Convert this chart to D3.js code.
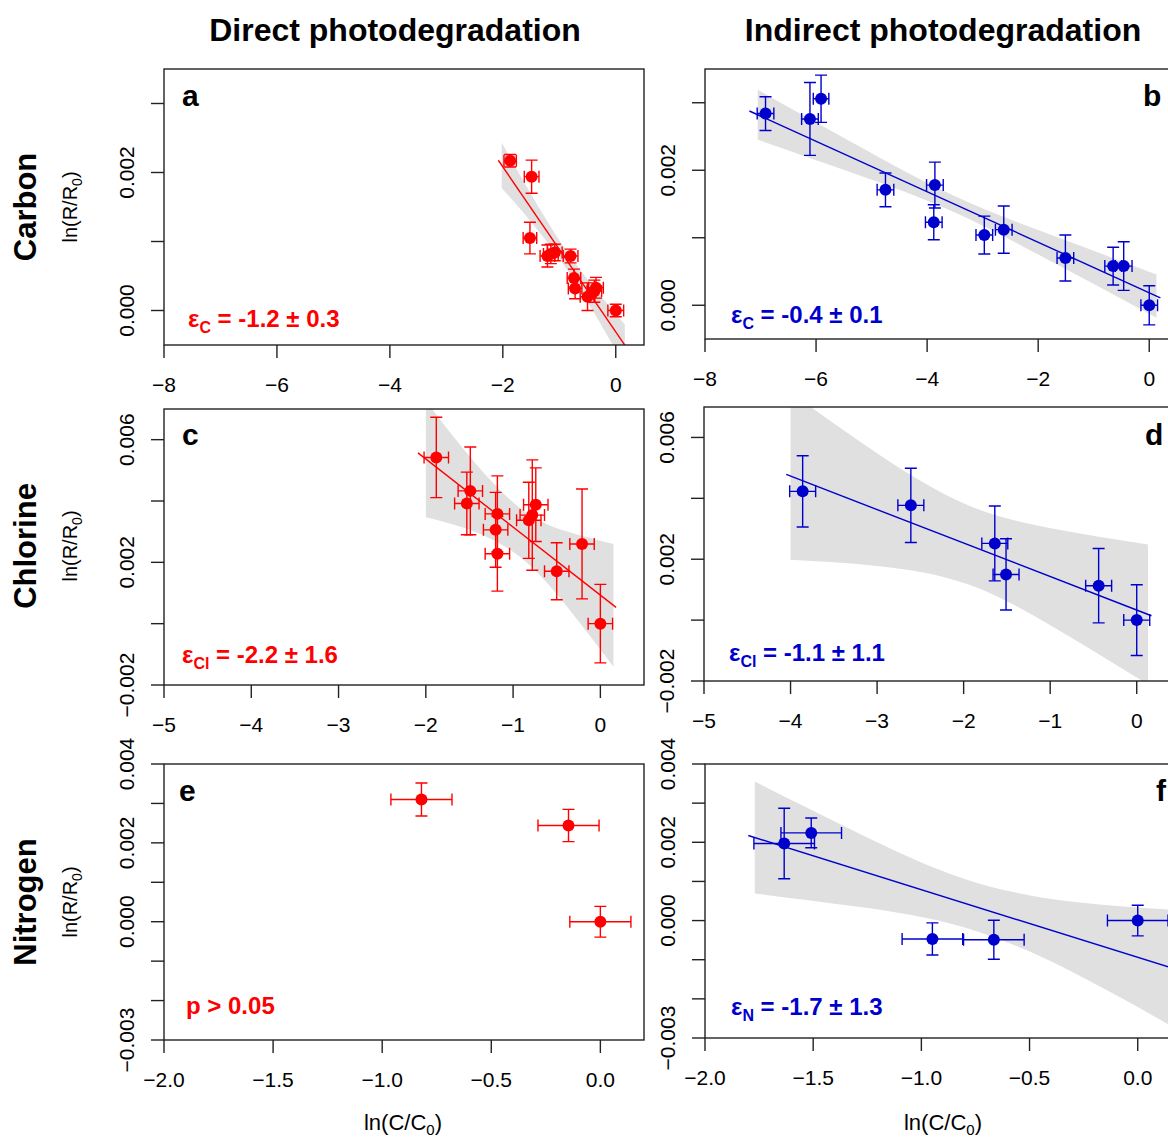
<!DOCTYPE html>
<html>
<head>
<meta charset="utf-8">
<script src="https://cdn.jsdelivr.net/npm/d3@7"></script>
<style>
  body { margin: 0; background: #fff; }
  svg { display: block; font-family: "Liberation Sans", Arial, Helvetica, sans-serif; }
</style>
</head>
<body>
<svg id="chart" width="1168" height="1137"></svg>
<script>
// ---- data (y values are ln(R/R0)) ----
// a: carbon, direct
const aX = [-1.87, -1.49, -1.52, -1.21, -1.15, -1.08, -0.80, -0.74, -0.72, -0.50, -0.38, -0.35, 0];
const aY = [0.00217, 0.00194, 0.00105, 0.00079, 0.00082, 0.00084, 0.00079, 0.00047, 0.00032, 0.00020, 0.00028, 0.00033, 0];
const aXe = [0.11, 0.13, 0.12, 0.13, 0.13, 0.13, 0.13, 0.12, 0.12, 0.13, 0.13, 0.13, 0.14];
const aYe = [0.00009, 0.00024, 0.00023, 0.00016, 0.00014, 0.00012, 0.00010, 0.00013, 0.00015, 0.00020, 0.00016, 0.00015, 0.00009];
// b: carbon, indirect
const bX = [-6.91, -6.11, -5.91, -4.75, -3.86, -3.88, -2.97, -2.62, -1.51, -0.65, -0.46, 0];
const bY = [0.00284, 0.00276, 0.00306, 0.00171, 0.00178, 0.00123, 0.00104, 0.00112, 0.00070, 0.00058, 0.00058, 0];
const bXe = [0.15, 0.15, 0.14, 0.15, 0.15, 0.15, 0.15, 0.15, 0.15, 0.15, 0.15, 0.15];
const bYe = [0.00025, 0.00054, 0.00035, 0.00025, 0.00034, 0.00026, 0.00028, 0.00035, 0.00034, 0.00028, 0.00036, 0.00029];
// c: chlorine, direct
const cX = [-1.88, -1.49, -1.53, -1.18, -1.20, -1.18, -0.74, -0.78, -0.82, -0.50, -0.21, 0];
const cY = [0.00542, 0.00433, 0.00392, 0.00358, 0.00306, 0.00228, 0.00388, 0.00354, 0.00337, 0.00171, 0.00260, 0];
const cXe = [0.14, 0.14, 0.14, 0.14, 0.14, 0.14, 0.14, 0.14, 0.14, 0.14, 0.14, 0.14];
const cYe = [0.00131, 0.00143, 0.00102, 0.00124, 0.00122, 0.00122, 0.00120, 0.00180, 0.00124, 0.00093, 0.00179, 0.00128];
// d: chlorine, indirect
const dX = [-3.86, -2.61, -1.64, -1.51, -0.44, 0];
const dY = [0.00423, 0.00377, 0.00252, 0.00150, 0.00113, 0];
const dXe = [0.15, 0.15, 0.15, 0.15, 0.15, 0.15];
const dYe = [0.00117, 0.00122, 0.00123, 0.00117, 0.00122, 0.00116];
// e: nitrogen, direct
const eX = [-0.82, -0.146, 0];
const eY = [0.00310, 0.00244, 0];
const eXe = [0.14, 0.14, 0.14];
const eYe = [0.00042, 0.00041, 0.00039];
// f: nitrogen, indirect
const fX = [-1.634, -1.509, -0.949, -0.665, 0];
const fY = [0.00197, 0.00224, -0.00047, -0.00049, 0];
const fXe = [0.14, 0.14, 0.14, 0.14, 0.14];
const fYe = [0.00090, 0.00038, 0.00041, 0.00050, 0.00039];

// fitted lines: [slope, intercept, xStart, xEnd]
const aFit = [-0.001196, -0.00031, -2.08, 0.16];
const bFit = [-0.000374, 0.000185, -7.2, 0.2];
const cFit = [-0.00222, 0.00093, -2.09, 0.18];
const dFit = [-0.00110, 0.00033, -4.05, 0.17];
const fFit = [-0.00173, -0.00094, -1.80, 0.2];
// confidence bands: x positions and half widths around the line
const aBandX = [-2.02, -1.5, -0.95, -0.4, 0.16];
const aBandHw = [0.00033, 0.00020, 0.00013, 0.00018, 0.00030];
const bBandX = [-7.05, -5.3, -3.5, -1.7, 0.13];
const bBandHw = [0.00037, 0.00022, 0.00012, 0.00020, 0.00032];
const cBandX = [-2.0, -1.5, -0.93, -0.4, 0.15];
const cBandHw = [0.0019, 0.0012, 0.0008, 0.0012, 0.0020];
const dBandX = [-4.0, -3.0, -1.95, -0.9, 0.13];
const dBandHw = [0.00275, 0.00185, 0.0013, 0.00165, 0.0023];
const fBandX = [-1.77, -1.3, -0.8, -0.3, 0.2];
const fBandHw = [0.00143, 0.00095, 0.00062, 0.0009, 0.00155];

// axes
const xTicksCarbon = [-8, -6, -4, -2, 0];
const xTicksChlorine = [-5, -4, -3, -2, -1, 0];
const xTicksNitrogen = [-2, -1.5, -1, -0.5, 0];
const yTicksCarbon = [0, 0.001, 0.002, 0.003];
const yLabelsCarbon = [0, 0.002];
const yTicksChlorine = [-0.002, 0, 0.002, 0.004, 0.006];
const yLabelsChlorine = [-0.002, 0.002, 0.006];
const yTicksNitrogen = [-0.003, -0.002, -0.001, 0, 0.001, 0.002, 0.003, 0.004];
const yLabelsNitrogen = [-0.003, 0, 0.002, 0.004];

const noteSubs = ["C", "C", "Cl", "Cl", null, "N"];
const noteTexts = [" = -1.2 ± 0.3", " = -0.4 ± 0.1", " = -2.2 ± 1.6", " = -1.1 ± 1.1", "p > 0.05", " = -1.7 ± 1.3"];

const RED = "#ff0000";
const BLUE = "#0000cd";

const panels = [
  { id: "a", x: aX, y: aY, xe: aXe, ye: aYe, fit: aFit, bx: aBandX, bh: aBandHw, color: RED,
    left: 164, top: 69, w: 480, h: 276, xDom: [-8, 0.5], yDom: [-0.0005, 0.0035],
    xt: xTicksCarbon, yt: yTicksCarbon, yl: yLabelsCarbon, xfmt: "d",
    letter: [182, 106], note: [188, 327] },
  { id: "b", x: bX, y: bY, xe: bXe, ye: bYe, fit: bFit, bx: bBandX, bh: bBandHw, color: BLUE,
    left: 705, top: 69, w: 472, h: 270, xDom: [-8, 0.5], yDom: [-0.0005, 0.0035],
    xt: xTicksCarbon, yt: yTicksCarbon, yl: yLabelsCarbon, xfmt: "d",
    letter: [1143, 106], note: [731, 323] },
  { id: "c", x: cX, y: cY, xe: cXe, ye: cYe, fit: cFit, bx: cBandX, bh: cBandHw, color: RED,
    left: 164, top: 409, w: 480, h: 276, xDom: [-5, 0.5], yDom: [-0.002, 0.007],
    xt: xTicksChlorine, yt: yTicksChlorine, yl: yLabelsChlorine, xfmt: "d",
    letter: [182, 445], note: [182, 663] },
  { id: "d", x: dX, y: dY, xe: dXe, ye: dYe, fit: dFit, bx: dBandX, bh: dBandHw, color: BLUE,
    left: 704, top: 407, w: 476, h: 274, xDom: [-5, 0.5], yDom: [-0.002, 0.007],
    xt: xTicksChlorine, yt: yTicksChlorine, yl: yLabelsChlorine, xfmt: "d",
    letter: [1145, 445], note: [729, 661] },
  { id: "e", x: eX, y: eY, xe: eXe, ye: eYe, fit: null, bx: null, bh: null, color: RED,
    left: 164, top: 764, w: 480, h: 276, xDom: [-2, 0.2], yDom: [-0.003, 0.004],
    xt: xTicksNitrogen, yt: yTicksNitrogen, yl: yLabelsNitrogen, xfmt: ".1f",
    letter: [179, 801], note: [186, 1014] },
  { id: "f", x: fX, y: fY, xe: fXe, ye: fYe, fit: fFit, bx: fBandX, bh: fBandHw, color: BLUE,
    left: 705, top: 764, w: 476, h: 274, xDom: [-2, 0.2], yDom: [-0.003, 0.004],
    xt: xTicksNitrogen, yt: yTicksNitrogen, yl: yLabelsNitrogen, xfmt: ".1f",
    letter: [1156, 801], note: [731, 1015] }
];

const svg = d3.select("#chart");
const AXIS = "#222";
const CAP = 6;

panels.forEach((p, i) => {
  const x = d3.scaleLinear().domain(p.xDom).range([p.left, p.left + p.w]);
  const y = d3.scaleLinear().domain(p.yDom).range([p.top + p.h, p.top]);
  const g = svg.append("g").attr("class", "panel-" + p.id);

  svg.append("clipPath").attr("id", "clip-" + p.id)
    .append("rect").attr("x", p.left).attr("y", p.top).attr("width", p.w).attr("height", p.h);

  const plot = g.append("g").attr("clip-path", `url(#clip-${p.id})`);

  // confidence band + fitted line
  if (p.fit) {
    const [m, b0, x0, x1] = p.fit;
    const band = p.bx.map((bx, k) => ({ x: bx, mid: m * bx + b0, hw: p.bh[k] }));
    plot.append("path")
      .datum(band)
      .attr("fill", "#e0e0e0")
      .attr("d", d3.area()
        .curve(d3.curveNatural)
        .x((d) => x(d.x))
        .y0((d) => y(d.mid - d.hw))
        .y1((d) => y(d.mid + d.hw)));
    plot.append("line")
      .attr("x1", x(x0)).attr("y1", y(m * x0 + b0))
      .attr("x2", x(x1)).attr("y2", y(m * x1 + b0))
      .attr("stroke", p.color).attr("stroke-width", 1.4);
  }

  // error bars
  const pts = p.x.map((v, k) => ({ x: v, y: p.y[k], xe: p.xe[k], ye: p.ye[k] }));
  const eb = plot.append("g").attr("stroke", p.color).attr("stroke-width", 1.4).attr("fill", "none");
  pts.forEach((d) => {
    const cx = x(d.x), cy = y(d.y);
    const yl = y(d.y - d.ye), yh = y(d.y + d.ye);
    const xl = x(d.x - d.xe), xh = x(d.x + d.xe);
    eb.append("path").attr("d",
      `M${cx},${yl}V${yh}M${cx - CAP},${yl}H${cx + CAP}M${cx - CAP},${yh}H${cx + CAP}` +
      `M${xl},${cy}H${xh}M${xl},${cy - CAP}V${cy + CAP}M${xh},${cy - CAP}V${cy + CAP}`);
  });
  plot.selectAll("circle.pt")
    .data(pts)
    .join("circle")
    .attr("class", "pt")
    .attr("cx", (d) => x(d.x))
    .attr("cy", (d) => y(d.y))
    .attr("r", 6)
    .attr("fill", p.color);

  // box
  g.append("rect")
    .attr("x", p.left).attr("y", p.top).attr("width", p.w).attr("height", p.h)
    .attr("fill", "none").attr("stroke", AXIS).attr("stroke-width", 1.4);

  // x axis
  const xf = d3.format(p.xfmt);
  g.selectAll("line.xt").data(p.xt).join("line").attr("class", "xt")
    .attr("x1", (d) => x(d)).attr("x2", (d) => x(d))
    .attr("y1", p.top + p.h).attr("y2", p.top + p.h + 13)
    .attr("stroke", AXIS).attr("stroke-width", 1.4);
  g.selectAll("text.xl").data(p.xt).join("text").attr("class", "xl")
    .attr("x", (d) => x(d)).attr("y", p.top + p.h + 47)
    .attr("text-anchor", "middle").attr("font-size", 21)
    .text((d) => xf(d));

  // y axis
  const yf = d3.format(".3f");
  g.selectAll("line.yt").data(p.yt).join("line").attr("class", "yt")
    .attr("x1", p.left - 13).attr("x2", p.left)
    .attr("y1", (d) => y(d)).attr("y2", (d) => y(d))
    .attr("stroke", AXIS).attr("stroke-width", 1.4);
  g.selectAll("text.yl").data(p.yl).join("text").attr("class", "yl")
    .attr("transform", (d) => `translate(${p.left - 30},${y(d)}) rotate(-90)`)
    .attr("text-anchor", "middle").attr("font-size", 21)
    .text((d) => yf(d));

  // panel letter
  g.append("text").attr("x", p.letter[0]).attr("y", p.letter[1])
    .attr("font-size", 30).attr("font-weight", "bold").text(p.id);

  // annotation
  const t = g.append("text").attr("x", p.note[0]).attr("y", p.note[1])
    .attr("fill", p.color).attr("font-weight", "bold").attr("font-size", 24);
  if (noteSubs[i]) {
    t.append("tspan").text("ε");
    t.append("tspan").attr("font-size", 16).attr("dy", 6).text(noteSubs[i]);
    t.append("tspan").attr("dy", -6).text(noteTexts[i]);
  } else {
    t.text(noteTexts[i]);
  }
});

// column titles
const colTitles = ["Direct photodegradation", "Indirect photodegradation"];
const colCenters = [395, 943];
svg.selectAll("text.coltitle").data(colTitles).join("text").attr("class", "coltitle")
  .attr("x", (d, i) => colCenters[i]).attr("y", 41)
  .attr("text-anchor", "middle").attr("font-size", 32).attr("font-weight", "bold")
  .text((d) => d);

// row labels
const rowTitles = ["Carbon", "Chlorine", "Nitrogen"];
const rowCenters = [207, 546, 902];
svg.selectAll("text.rowtitle").data(rowTitles).join("text").attr("class", "rowtitle")
  .attr("transform", (d, i) => `translate(36,${rowCenters[i]}) rotate(-90)`)
  .attr("text-anchor", "middle").attr("font-size", 31).attr("font-weight", "bold")
  .text((d) => d);

// y titles ln(R/R0)
rowCenters.forEach((c) => {
  const t = svg.append("text")
    .attr("transform", `translate(77,${c}) rotate(-90)`)
    .attr("text-anchor", "middle").attr("font-size", 20);
  t.append("tspan").text("ln(R/R");
  t.append("tspan").attr("font-size", 14).attr("dy", 5).text("0");
  t.append("tspan").attr("dy", -5).text(")");
});

// x titles ln(C/C0)
[403, 943].forEach((c) => {
  const t = svg.append("text").attr("x", c).attr("y", 1130)
    .attr("text-anchor", "middle").attr("font-size", 22);
  t.append("tspan").text("ln(C/C");
  t.append("tspan").attr("font-size", 15).attr("dy", 5).text("0");
  t.append("tspan").attr("dy", -5).text(")");
});
</script>
</body>
</html>
